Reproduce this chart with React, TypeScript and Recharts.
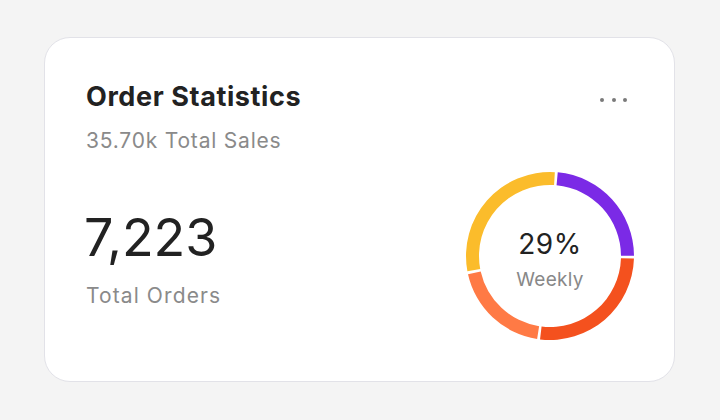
import { PieChart, Pie, Cell } from "recharts";

const segments = ["Electronic", "Fashion", "Decor", "Sports"];
const shares = [24, 27, 19.5, 29.5];
const colors = ["#7b2ae6", "#f4511e", "#ff7a45", "#fbbc2b"];

const title = "Order Statistics";
const subtitle = "35.70k Total Sales";
const totalOrders = "7,223";
const totalLabel = "Total Orders";
const centerValue = "29%";
const centerLabel = "Weekly";

const data = segments.map((name, i) => ({ name, value: shares[i] }));

const font = "Inter, 'Noto Sans', sans-serif";

const abs = (left: number, top: number, extra: React.CSSProperties) => ({
  position: "absolute" as const,
  left,
  top,
  whiteSpace: "nowrap" as const,
  ...extra,
});

export default function App() {
  return (
    <div
      style={{
        position: "fixed",
        left: 0,
        top: 0,
        width: 720,
        height: 420,
        background: "#f4f4f4",
        fontFamily: font,
      }}
    >
      <div
        style={{
          position: "absolute",
          left: 44,
          top: 37,
          width: 631,
          height: 345,
          boxSizing: "border-box",
          background: "#fff",
          border: "1.5px solid #e2e2e8",
          borderRadius: 26,
        }}
      />

      <div
        style={abs(86, 81, {
          fontSize: 27,
          fontWeight: 700,
          color: "#222",
          lineHeight: "32px",
          letterSpacing: 0.6,
        })}
      >
        {title}
      </div>
      <div
        style={abs(86, 127, {
          fontSize: 21,
          color: "#8a8a8a",
          lineHeight: "28px",
          letterSpacing: 0.8,
        })}
      >
        {subtitle}
      </div>

      <div
        style={abs(84, 206, {
          fontSize: 52,
          color: "#222",
          lineHeight: "64px",
        })}
      >
        {totalOrders}
      </div>
      <div
        style={abs(86, 282, {
          fontSize: 21,
          color: "#8a8a8a",
          lineHeight: "28px",
          letterSpacing: 1.1,
        })}
      >
        {totalLabel}
      </div>

      {[602, 613.5, 625].map((x) => (
        <div
          key={x}
          style={{
            position: "absolute",
            left: x - 2,
            top: 97.5,
            width: 4,
            height: 4,
            borderRadius: 2,
            background: "#7a7a7a",
          }}
        />
      ))}

      <div style={{ position: "absolute", left: 450, top: 156 }}>
        <PieChart
          width={200}
          height={200}
          margin={{ top: 0, right: 0, bottom: 0, left: 0 }}
        >
          <Pie
            data={data}
            dataKey="value"
            nameKey="name"
            cx="50%"
            cy="50%"
            innerRadius={71}
            outerRadius={84}
            startAngle={84.7}
            endAngle={-275.3}
            paddingAngle={2}
            stroke="none"
            isAnimationActive={false}
          >
            {data.map((d, i) => (
              <Cell key={d.name} fill={colors[i]} />
            ))}
          </Pie>
        </PieChart>
      </div>

      <div
        style={abs(450, 230, {
          width: 200,
          textAlign: "center",
          fontSize: 28,
          lineHeight: "28px",
          color: "#222",
          letterSpacing: 0.6,
        })}
      >
        {centerValue}
      </div>
      <div
        style={abs(450, 269.5, {
          width: 200,
          textAlign: "center",
          fontSize: 19,
          lineHeight: "19px",
          color: "#888",
          letterSpacing: 0.3,
        })}
      >
        {centerLabel}
      </div>
    </div>
  );
}
